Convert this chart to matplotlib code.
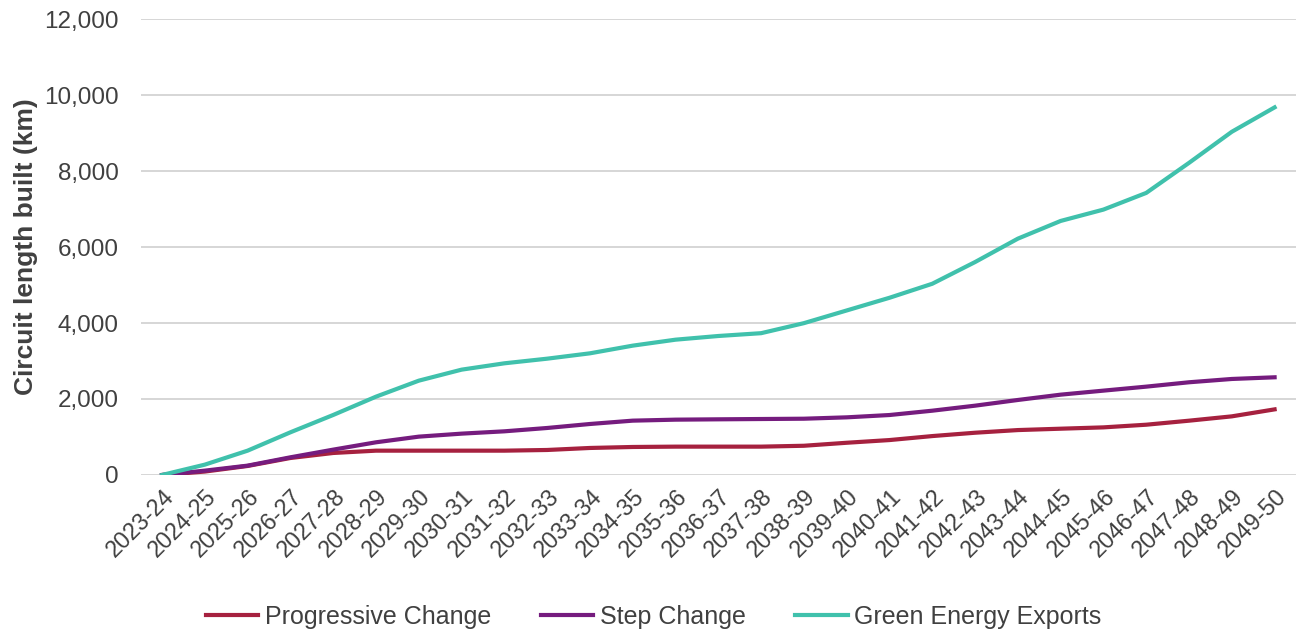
import matplotlib
matplotlib.use('Agg')

import matplotlib.pyplot as plt
from matplotlib.ticker import FuncFormatter

plt.rcParams['font.family'] = ['Liberation Sans', 'DejaVu Sans']

# Jahre (Kategorien)
years = ['2023-24', '2024-25', '2025-26', '2026-27', '2027-28', '2028-29', '2029-30',
         '2030-31', '2031-32', '2032-33', '2033-34', '2034-35', '2035-36', '2036-37',
         '2037-38', '2038-39', '2039-40', '2040-41', '2041-42', '2042-43', '2043-44',
         '2044-45', '2045-46', '2046-47', '2047-48', '2048-49', '2049-50']

progressive_change = [0, 90, 237, 447, 579, 640, 640, 640, 640, 658, 711, 737, 746, 746,
                      746, 769, 848, 919, 1024, 1112, 1182, 1218, 1253, 1323, 1429, 1543, 1727]
step_change = [0, 114, 246, 465, 667, 860, 1009, 1088, 1149, 1237, 1342, 1430, 1456, 1465,
               1473, 1481, 1517, 1578, 1692, 1824, 1974, 2114, 2220, 2325, 2440, 2527, 2571]
green_energy_exports = [0, 272, 640, 1123, 1579, 2061, 2482, 2772, 2939, 3061, 3202, 3404,
                        3561, 3658, 3732, 3996, 4330, 4664, 5033, 5604, 6220, 6686, 6985,
                        7424, 8215, 9033, 9675]

text_col = '#404040'

fig = plt.figure(figsize=(12.96, 6.35), dpi=100)
ax = fig.add_axes([0.1085, 0.252, 0.8915, 0.718])

x = list(range(len(years)))
ax.plot(x, progressive_change, color='#A6213F', lw=3, label='Progressive Change', zorder=3)
ax.plot(x, step_change, color='#751C7E', lw=3, label='Step Change', zorder=3)
ax.plot(x, green_energy_exports, color='#40C1AC', lw=3, label='Green Energy Exports', zorder=3)

ax.set_xlim(-0.5, len(years) - 0.5)
ax.set_ylim(0, 12000)
ax.set_yticks(range(0, 12001, 2000))
ax.yaxis.set_major_formatter(FuncFormatter(lambda v, p: f'{int(v):,}'))
ax.grid(axis='y', color='#D0D0D0', lw=1.2)
ax.set_axisbelow(True)
for s in ax.spines.values():
    s.set_visible(False)

ax.set_xticks(x)
ax.set_xticklabels(years, rotation=45, ha='right', rotation_mode='anchor')
ax.tick_params(axis='both', length=0, colors=text_col)
ax.tick_params(axis='y', pad=16, labelsize=17.5)
ax.tick_params(axis='x', pad=7, labelsize=16.8)

ax.set_ylabel('Circuit length built (km)', fontsize=19, fontweight='bold', color=text_col, labelpad=4)

ax.legend(loc='center', bbox_to_anchor=(0.444, -0.311), ncol=3, frameon=False,
          fontsize=18, handlelength=2.1, handletextpad=0.25, columnspacing=2.0,
          labelcolor=text_col)

fig.savefig('out.png', dpi=100)
